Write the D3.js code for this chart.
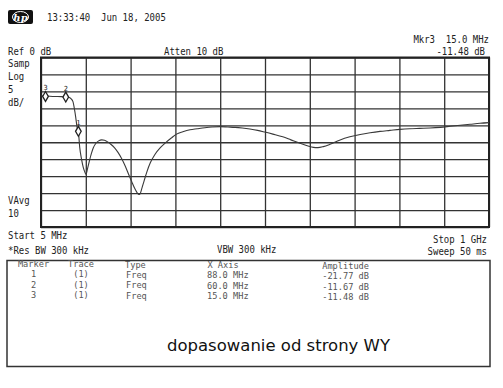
<!DOCTYPE html>
<html>
<head>
<meta charset="utf-8">
<script src="https://cdn.jsdelivr.net/npm/d3@7"></script>
<style>
  body { margin: 0; background: #fff; }
  svg text { font-family: "DejaVu Sans Mono", monospace; fill: #222; white-space: pre; }
</style>
</head>
<body>
<svg id="chart" width="503" height="388"></svg>
<script>
// trace (MHz, dB)
const freqMHz = [5, 20, 36, 50, 60, 68, 72, 76, 79, 82, 85, 88, 91, 95, 99, 103, 105, 108, 112, 117, 121, 127, 133, 140, 146, 153, 160, 168, 176, 184, 192, 200, 207, 213, 218, 222, 225, 229, 234, 240, 248, 258, 270, 282, 295, 306, 320, 336, 352, 369, 385, 403, 420, 436, 452, 469, 486, 502, 520, 542, 560, 580, 598, 610, 620, 632, 647, 668, 691, 714, 736, 758, 780, 802, 824, 846, 869, 892, 914, 936, 958, 980, 1000];
const ampDb = [-11.3, -11.4, -11.5, -11.55, -11.65, -11.8, -12.2, -13, -15, -17.5, -20.5, -21.8, -26.5, -30, -32.5, -34, -34.5, -33, -30.8, -28.3, -26.7, -25.3, -24.6, -24.3, -24.4, -24.9, -25.6, -26.6, -28, -29.8, -32, -34.6, -36.8, -38.6, -39.8, -40.4, -40.2, -38.6, -36.4, -33.8, -31, -28.6, -26.6, -25.1, -23.7, -22.6, -21.9, -21.3, -21, -20.7, -20.5, -20.4, -20.5, -20.6, -20.8, -21.1, -21.5, -22, -22.6, -23.4, -24.3, -25.3, -26.1, -26.5, -26.6, -26.3, -25.6, -24.4, -23.4, -22.7, -22.2, -21.8, -21.5, -21.2, -21, -20.9, -20.8, -20.6, -20.3, -20, -19.7, -19.4, -19.2];

// marker table
const markerIds = [1, 2, 3];
const markerFreq = [88.0, 60.0, 15.0];
const markerAmp = [-21.77, -11.67, -11.48];

const startMHz = 5, stopMHz = 1000;
const refDb = 0, dbPerDiv = 5, divs = 10;

const svg = d3.select('#chart');
const x = d3.scaleLinear().domain([startMHz, stopMHz]).range([41, 489]);
const y = d3.scaleLinear().domain([refDb - dbPerDiv * divs, refDb]).range([227, 57.5]);

function label(px, py, str, anchor, size, color, cw) {
    const t = svg.append('text')
        .attr('x', px).attr('y', py)
        .attr('font-size', size || 11)
        .attr('text-anchor', anchor || 'start')
        .attr('textLength', str.length * (cw || 5.4))
        .attr('lengthAdjust', 'spacingAndGlyphs')
        .text(str);
    if (color) t.style('fill', color);
    return t;
}

// grid
const xTicks = d3.range(divs + 1).map(i => startMHz + i * (stopMHz - startMHz) / divs);
const yTicks = d3.range(divs + 1).map(i => refDb - i * dbPerDiv);

svg.append('g')
    .attr('transform', 'translate(0,227)')
    .call(d3.axisBottom(x).tickValues(xTicks).tickSize(-(227 - 57.5)).tickFormat(''))
    .call(g => g.select('.domain').remove())
    .selectAll('line').attr('stroke', '#333').attr('stroke-width', 1.3);

svg.append('g')
    .attr('transform', 'translate(41,0)')
    .call(d3.axisLeft(y).tickValues(yTicks).tickSize(-(489 - 41)).tickFormat(''))
    .call(g => g.select('.domain').remove())
    .selectAll('line').attr('stroke', '#333').attr('stroke-width', 1.3);

svg.append('rect')
    .attr('x', 41).attr('y', 57.5).attr('width', 448).attr('height', 227 - 57.5)
    .attr('fill', 'none').attr('stroke', '#222').attr('stroke-width', 2);

// trace
const pts = freqMHz.map((f, i) => [f, ampDb[i]]);
svg.append('path')
    .datum(pts)
    .attr('fill', 'none')
    .attr('stroke', '#3a3a3a')
    .attr('stroke-width', 1.1)
    .attr('d', d3.line().x(d => x(d[0])).y(d => y(d[1])).curve(d3.curveMonotoneX));

// markers
const mk = svg.append('g');
markerIds.forEach((id, i) => {
    const mx = x(markerFreq[i]), my = y(markerAmp[i]);
    mk.append('path')
        .attr('transform', `translate(${mx},${my})`)
        .attr('d', d3.symbol(d3.symbolDiamond, 28)())
        .attr('fill', '#fff').attr('stroke', '#222').attr('stroke-width', 1.3);
    mk.append('text')
        .attr('x', mx).attr('y', my - 6)
        .attr('font-size', 7).attr('text-anchor', 'middle')
        .text(id);
});

// header
const logo = svg.append('g');
logo.append('rect').attr('x', 8).attr('y', 10).attr('width', 25).attr('height', 14).attr('rx', 2).attr('fill', '#111');
logo.append('ellipse').attr('cx', 20.5).attr('cy', 17).attr('rx', 8).attr('ry', 5.5).attr('fill', 'none').attr('stroke', '#fff').attr('stroke-width', 1);
logo.append('text').attr('x', 20.5).attr('y', 20.5).attr('text-anchor', 'middle')
    .attr('font-size', 10).attr('font-style', 'italic').attr('font-weight', 'bold')
    .style('font-family', 'DejaVu Serif, serif').style('fill', '#fff').text('hp');

label(47, 21, '13:33:40  Jun 18, 2005');

label(8, 55, 'Ref 0 dB');
label(164, 55, 'Atten 10 dB');
label(489, 42.5, 'Mkr3  15.0 MHz', 'end');
label(485, 55, '-11.48 dB', 'end');

['Samp', 'Log', '5', 'dB/'].forEach((s, i) => label(8, 67 + i * 13, s));
label(8, 204, 'VAvg');
label(8, 217, '10');

label(8, 239, 'Start 5 MHz');
label(487, 243, 'Stop 1 GHz', 'end');
label(8, 254, '*Res BW 300 kHz');
label(217, 253, 'VBW 300 kHz');
label(487, 255, 'Sweep 50 ms', 'end');

// marker table
svg.append('rect')
    .attr('x', 7).attr('y', 260.5).attr('width', 483).attr('height', 106)
    .attr('fill', 'none').attr('stroke', '#333').attr('stroke-width', 1.5);

const tcol = '#555', ts = 8.5, tw = 5.2;
label(33.5, 267, 'Marker', 'middle', ts, tcol, tw);
label(81, 267, 'Trace', 'middle', ts, tcol, tw);
label(125, 267.5, 'Type', 'start', ts, tcol, tw);
label(223, 268, 'X Axis', 'middle', ts, tcol, tw);
label(369, 269, 'Amplitude', 'end', ts, tcol, tw);

markerIds.forEach((id, i) => {
    const ry = 277 + i * 10.5;
    label(33.5, ry, String(id), 'middle', ts, tcol, tw);
    label(81, ry, '(1)', 'middle', ts, tcol, tw);
    label(126, ry + 0.8, 'Freq', 'start', ts, tcol, tw);
    label(207, ry + 1.2, markerFreq[i].toFixed(1) + ' MHz', 'start', ts, tcol, tw);
    label(369, ry + 2, markerAmp[i].toFixed(2) + ' dB', 'end', ts, tcol, tw);
});

svg.append('text')
    .attr('x', 167).attr('y', 350.5)
    .attr('font-size', 16.5)
    .style('font-family', '"DejaVu Sans", sans-serif')
    .style('fill', '#111')
    .attr('textLength', 223).attr('lengthAdjust', 'spacingAndGlyphs')
    .text('dopasowanie od strony WY');
</script>
</body>
</html>
